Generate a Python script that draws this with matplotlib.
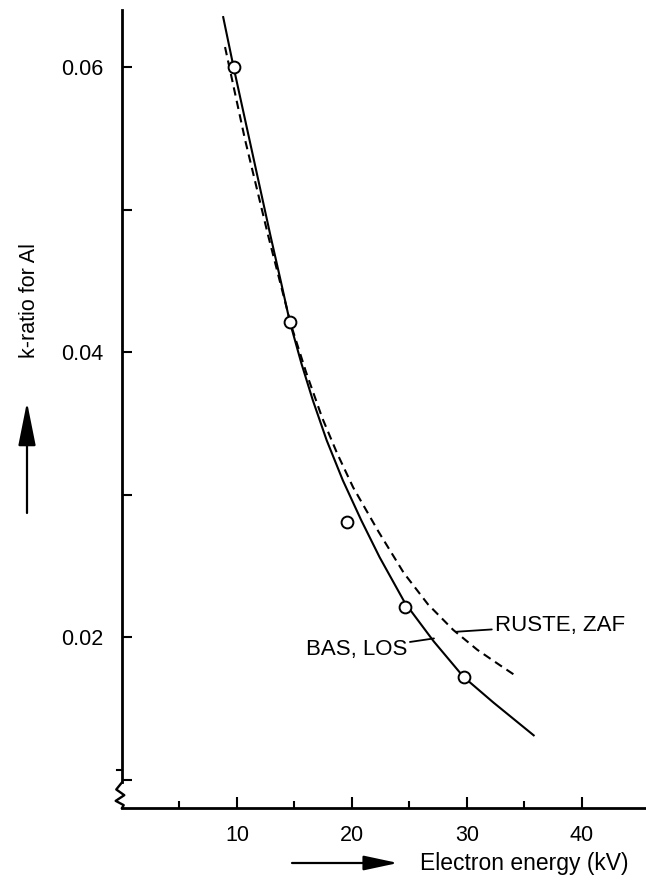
import matplotlib
matplotlib.use("Agg")
import matplotlib.pyplot as plt
from matplotlib.ticker import FixedLocator, NullFormatter

plt.rcParams['font.family'] = ['Liberation Sans', 'DejaVu Sans']

# measured k-ratios (open circles)
energy = [9.7, 14.6, 19.6, 24.6, 29.7]
kratio = [0.0600, 0.0421, 0.0281, 0.0221, 0.0172]

# BAS, LOS curve (solid)
bas_kv = [8.8, 9.7, 11.3, 12.9, 13.8, 14.6, 15.6, 16.6, 17.8, 19.2, 20.8, 22.4,
          24.6, 27.1, 29.7, 32.3, 35.8]
bas_k = [0.0635, 0.0600, 0.0541, 0.0482, 0.0450, 0.0421, 0.0392, 0.0366, 0.0338,
         0.0310, 0.0282, 0.0256, 0.0224, 0.0197, 0.0172, 0.0154, 0.0131]

# RUSTE, ZAF curve (dashed)
ruste_kv = [8.96, 10.7, 12.7, 14.7, 16.0, 17.4, 18.7, 20.1, 22.3, 24.5, 26.6,
            28.8, 30.9, 32.9, 34.2]
ruste_k = [0.0614, 0.0549, 0.0482, 0.0419, 0.0386, 0.0354, 0.0329, 0.0305, 0.0274,
           0.0245, 0.0223, 0.0205, 0.0191, 0.0180, 0.0173]

x_major = [10, 20, 30, 40]
x_minor = [5, 15, 25, 35]
y_major = [0.02, 0.04, 0.06]
y_minor = [0.01, 0.03, 0.05]

W, H = 646, 883
fig = plt.figure(figsize=(W / 100, H / 100), dpi=100)
ax = fig.add_axes([122 / W, (H - 808) / H, (645 - 122) / W, (808 - 10) / H])

ax.plot(bas_kv, bas_k, color='black', lw=1.5, solid_joinstyle='round')
ax.plot(ruste_kv, ruste_k, color='black', lw=1.5, dashes=(4, 2.6))
ax.plot(energy, kratio, 'o', ms=8.5, mfc='white', mec='black', mew=1.4, zorder=5)

ax.set_xlim(0, 45.48)
ax.set_ylim(0.0080, 0.0640)

for s in ['top', 'right']:
    ax.spines[s].set_visible(False)
for s in ['left', 'bottom']:
    ax.spines[s].set_linewidth(2.0)
ax.spines['left'].set_bounds(0.0098, 0.0640)

# scale break on the y axis
ax.plot([0, -0.5, 0.2, -0.55, 0.15, 0], [0.0098, 0.0093, 0.0089, 0.0085, 0.0082, 0.0080],
        color='black', lw=1.7, clip_on=False)
ax.plot([-0.45, 0], [0.0107, 0.0107], color='black', lw=1.5, clip_on=False)

ax.xaxis.set_major_locator(FixedLocator(x_major))
ax.xaxis.set_minor_locator(FixedLocator(x_minor))
ax.yaxis.set_major_locator(FixedLocator(y_major))
ax.yaxis.set_minor_locator(FixedLocator(y_minor))
ax.set_xticklabels([str(v) for v in x_major])
ax.set_yticklabels(['%.2f' % v for v in y_major])
ax.xaxis.set_minor_formatter(NullFormatter())
ax.yaxis.set_minor_formatter(NullFormatter())

ax.tick_params(axis='x', which='major', direction='in', length=8, width=1.5, pad=12, labelsize=15.5)
ax.tick_params(axis='x', which='minor', direction='in', length=5, width=1.5)
ax.tick_params(axis='y', which='both', direction='in', length=7.2, width=1.5, pad=13.5, labelsize=15.5)

# curve labels with leader lines
ax.annotate('BAS, LOS', xy=(27.13, 0.0199), xytext=(24.8, 0.0191), ha='right', va='center',
            fontsize=16, arrowprops=dict(arrowstyle='-', lw=1.3, shrinkA=0, shrinkB=0))
ax.annotate('RUSTE, ZAF', xy=(29.1, 0.02037), xytext=(32.4, 0.02084), ha='left', va='center',
            fontsize=16, arrowprops=dict(arrowstyle='-', lw=1.3, shrinkA=0, shrinkB=0))

# axis titles with arrows
fig.text(35 / W, 1 - 358 / H, 'k-ratio for Al', rotation=90, rotation_mode='anchor',
         ha='left', va='baseline', fontsize=15.5)
fig.text(420 / W, 1 - 870 / H, 'Electron energy (kV)', ha='left', va='baseline', fontsize=16.5)

arrow = dict(arrowstyle='-|>,head_length=27,head_width=5.4', mutation_scale=1,
             lw=1.6, color='black', shrinkA=0, shrinkB=0)
ax.annotate('', xy=(27, H - 402), xytext=(27, H - 513), xycoords='figure pixels',
            textcoords='figure pixels', arrowprops=arrow)
arrow2 = dict(arrowstyle='-|>,head_length=21,head_width=4.5', mutation_scale=1,
              lw=1.6, color='black', shrinkA=0, shrinkB=0)
ax.annotate('', xy=(398, H - 863), xytext=(292, H - 863), xycoords='figure pixels',
            textcoords='figure pixels', arrowprops=arrow2)

fig.savefig('out.png', dpi=100)
